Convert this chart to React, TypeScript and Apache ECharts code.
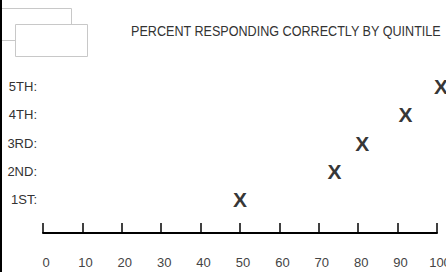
import React, { useEffect, useRef } from "react";
import * as echarts from "echarts";

const quintiles = ["1ST:", "2ND:", "3RD:", "4TH:", "5TH:"];
const percentCorrect = [50, 74, 81, 92, 101];
const xTicks = [0, 10, 20, 30, 40, 50, 60, 70, 80, 90, 100];
const titleText = "PERCENT RESPONDING CORRECTLY BY QUINTILE";

const SANS = "'Liberation Sans', Arial, sans-serif";

export default function App() {
  const ref = useRef<HTMLDivElement>(null);
  useEffect(() => {
    if (!ref.current) return;
    const chart = echarts.init(ref.current, null, { renderer: "svg" });
    chart.setOption({
      animation: false,
      backgroundColor: "#ffffff",
      grid: { left: 43, right: 9, top: 72, height: 142, containLabel: false, outerBoundsMode: "none" },
      xAxis: {
        type: "value",
        min: xTicks[0],
        max: xTicks[xTicks.length - 1],
        interval: 10,
        offset: 19,
        splitLine: { show: false },
        axisLine: { show: true, lineStyle: { color: "#000", width: 2 } },
        axisTick: { show: true, inside: true, length: 10, lineStyle: { color: "#000", width: 1.5 } },
        axisLabel: {
          margin: 23,
          fontFamily: SANS,
          fontSize: 13,
          color: "#444",
          padding: [0, 0, 0, 6],
          formatter: (v: number) => (xTicks.includes(v) ? String(v) : ""),
        },
      },
      yAxis: {
        type: "category",
        data: quintiles,
        axisLine: { show: false },
        axisTick: { show: false },
        splitLine: { show: false },
        axisLabel: { margin: 6, fontFamily: SANS, fontSize: 13, color: "#333" },
      },
      series: [
        {
          type: "scatter",
          clip: false,
          symbol: "circle",
          symbolSize: 1,
          itemStyle: { color: "rgba(0,0,0,0)" },
          data: percentCorrect.map((v, i) => [v, quintiles[i]]),
          label: {
            show: true,
            position: "inside",
            align: "center",
            verticalAlign: "middle",
            formatter: "X",
            fontFamily: SANS,
            fontWeight: "bold",
            fontSize: 21,
            color: "#000",
          },
        },
      ],
      graphic: [
        { type: "rect", shape: { x: 0.5, y: 8.5, width: 71, height: 32 }, style: { fill: "#fff", stroke: "#c8c8c8", lineWidth: 1 } },
        { type: "rect", shape: { x: 15.5, y: 24.5, width: 72, height: 32 }, style: { fill: "#fff", stroke: "#c8c8c8", lineWidth: 1 } },
        { type: "rect", shape: { x: 0, y: 0, width: 2, height: 272 }, style: { fill: "#000" } },
        {
          type: "text",
          x: 131,
          y: 31,
          scaleX: 0.84,
          style: {
            text: titleText,
            fontFamily: SANS,
            fontSize: 15,
            fill: "#333",
            align: "left",
            verticalAlign: "middle",
          },
        },
      ],
    });
    return () => chart.dispose();
  }, []);
  return <div ref={ref} style={{ position: "fixed", left: 0, top: 0, width: 446, height: 272 }} />;
}
